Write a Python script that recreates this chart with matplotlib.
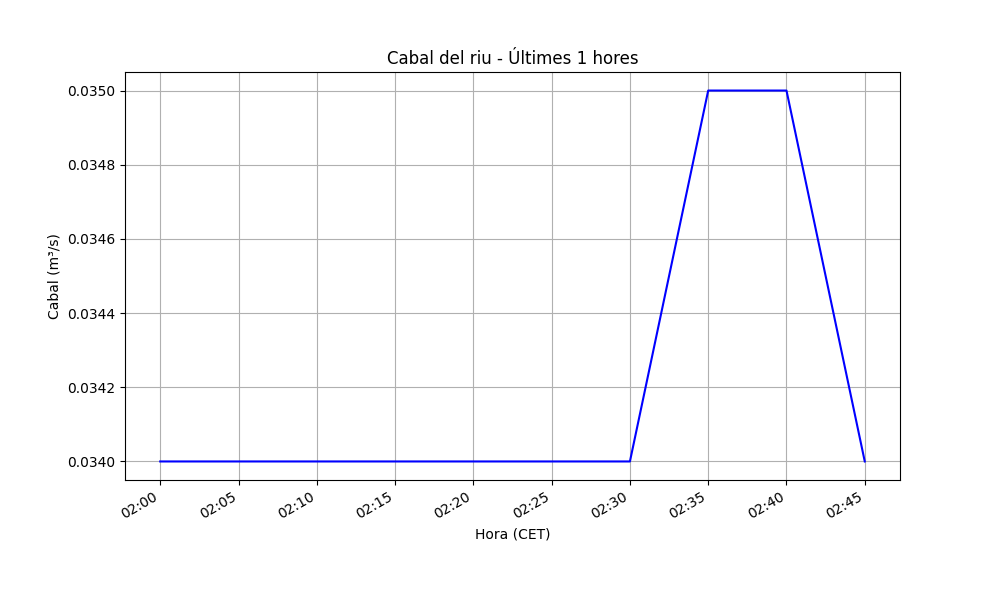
import matplotlib
matplotlib.use("Agg")
import matplotlib.pyplot as plt
import matplotlib.dates as mdates
import pandas as pd

times = ["02:00", "02:05", "02:10", "02:15", "02:20", "02:25", "02:30", "02:35", "02:40", "02:45"]
cabal = [0.0340, 0.0340, 0.0340, 0.0340, 0.0340, 0.0340, 0.0340, 0.0350, 0.0350, 0.0340]

x = pd.to_datetime(["2024-01-01 " + t for t in times])

fig, ax = plt.subplots(figsize=(10, 6), dpi=100)
ax.plot(x, cabal, color="blue")
ax.set_title("Cabal del riu - Últimes 1 hores")
ax.set_xlabel("Hora (CET)")
ax.set_ylabel("Cabal (m³/s)")
ax.grid(True)
ax.xaxis.set_major_locator(mdates.MinuteLocator(byminute=range(0, 60, 5)))
ax.xaxis.set_major_formatter(mdates.DateFormatter("%H:%M"))
fig.autofmt_xdate()
fig.savefig("out.png")
